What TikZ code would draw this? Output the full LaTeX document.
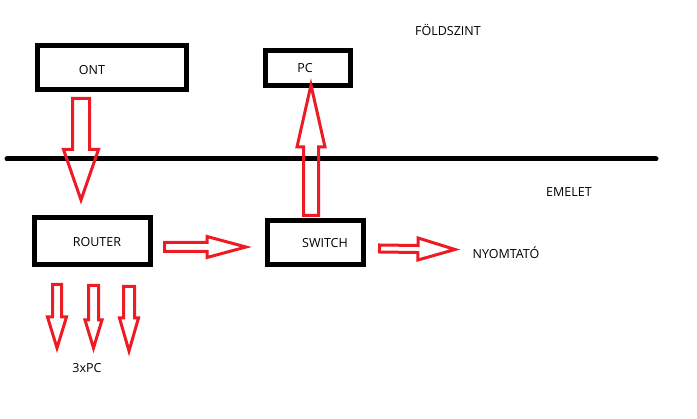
\documentclass[tikz,border=0pt]{standalone}
\usepackage{fontspec}
\setmainfont{Open Sans}
\usetikzlibrary{calc}

\definecolor{paintred}{HTML}{ED1C24}

% hollow block arrow: tail, tip, shaft half-width, head half-width, head length
\newcommand\blockarrow[5]{%
  \coordinate (hb) at ($(#2)!#5!(#1)$);
  \draw[blockarr] ($(#1)!#3!90:(#2)$) -- ($(hb)!#3!90:(#2)$) -- ($(hb)!#4!90:(#2)$)
    -- (#2) -- ($(hb)!#4!-90:(#2)$) -- ($(hb)!#3!-90:(#2)$) -- ($(#1)!#3!-90:(#2)$) -- cycle;
}

\begin{document}
\begin{tikzpicture}[
  x=1pt, y=-1pt,
  font=\fontsize{12.5}{15}\selectfont,
  devbox/.style={draw=black, line width=5pt, inner sep=0pt},
  lbl/.style={inner sep=0pt, text=black},
  blockarr/.style={draw=paintred, line width=3pt, line join=miter},
  floor/.style={draw=black, line width=5pt, line cap=round}
]
\useasboundingbox (0,0) rectangle (697,419);

% floor divider
\coordinate (floorL) at (7,159);
\coordinate (floorR) at (656,159);
\draw[floor] (floorL) -- (floorR);

% devices
\node[devbox, minimum width=149pt, minimum height=44pt] (ontbox) at (112,67.5) {};
\node[devbox, minimum width=85pt, minimum height=35pt] (pcbox) at (308,68) {};
\node[devbox, minimum width=116pt, minimum height=47pt] (routerbox) at (92.5,241) {};
\node[devbox, minimum width=96pt, minimum height=44pt] (switchbox) at (315.5,242.5) {};

% texts
\node[lbl] (ont) at (92,70) {ONT};
\node[lbl] (pc) at (305,68) {PC};
\node[lbl] (router) at (97,242) {ROUTER};
\node[lbl] (switch) at (325,243) {SWITCH};
\node[lbl] (printer) at (506,253) {NYOMTATÓ};
\node[lbl] (threepc) at (87,368) {3xPC};
\node[lbl] (ground) at (448,30) {FÖLDSZINT};
\node[lbl] (upper) at (569,192) {EMELET};

% arrow end points
\coordinate (ontT) at (81,98.5);    \coordinate (ontH) at (81,200);
\coordinate (swT) at (311,215.5);   \coordinate (swH) at (311,85);
\coordinate (rtT) at (164.5,247);   \coordinate (rtH) at (246,247);
\coordinate (prT) at (379.5,248.5); \coordinate (prH) at (455,249.5);
\coordinate (pcaT) at (57,284.5);   \coordinate (pcaH) at (57,348);
\coordinate (pcbT) at (93.5,285.5); \coordinate (pcbH) at (93.5,348);
\coordinate (pccT) at (129,286.5);  \coordinate (pccH) at (129,351);

\blockarrow{ontT}{ontH}{8.5pt}{17.5pt}{50.5pt}
\blockarrow{swT}{swH}{7.5pt}{14pt}{62pt}
\blockarrow{rtT}{rtH}{4.5pt}{10.5pt}{39pt}
\blockarrow{prT}{prH}{3.5pt}{11pt}{37pt}
\blockarrow{pcaT}{pcaH}{4.5pt}{9.5pt}{31pt}
\blockarrow{pcbT}{pcbH}{5pt}{8.5pt}{28pt}
\blockarrow{pccT}{pccH}{5.5pt}{9.5pt}{33pt}

\end{tikzpicture}
\end{document}
